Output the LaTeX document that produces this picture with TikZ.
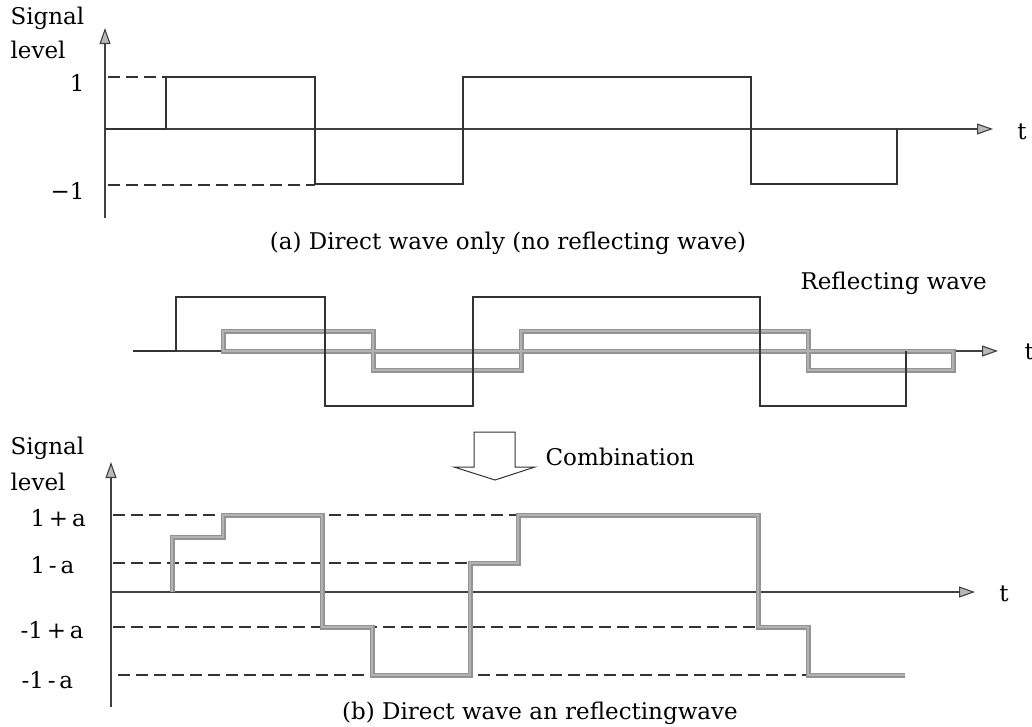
\documentclass[tikz,border=0pt]{standalone}
\usepackage{fontspec}
\setmainfont{DejaVu Serif}
\usetikzlibrary{arrows.meta}
\begin{document}
\begin{tikzpicture}[x=1pt,y=-1pt,line width=1.1pt,font=\fontsize{23}{27}\selectfont,
	axis/.style={draw=black!75, -{Triangle[length=16pt,width=11pt,fill=gray!55]}},
	level/.style={black!80, dash pattern=on 12pt off 6pt},
	direct/.style={black!80},
	refl/.style={draw=gray!85, line width=1.2pt, double=gray!60, double distance=2.6pt, line join=miter},
	lbl/.style={inner sep=0pt}]
\useasboundingbox (0,0) rectangle (1032,726);

% (a) direct wave only
\draw[axis] (105,218) -- (105,28);
\draw[axis] (105,129) -- (993,129);
\node[lbl, anchor=west] (sigA) at (10,18) {Signal};
\node[lbl, anchor=west] (levA) at (10,50) {level};
\node[lbl] (tA) at (1022,132) {t};
\node[lbl, anchor=east] (oneA) at (85,83) {1};
\node[lbl, anchor=east] (moneA) at (85,191) {−1};

\draw[level] (108,77) -- (165,77);
\draw[level] (108,185) -- (315,185);

\draw[direct] (105,129) -- (166,129) -- (166,77) -- (315,77) -- (315,184) -- (463,184)
	-- (463,77) -- (751,77) -- (751,184) -- (897,184) -- (897,129);

\node[lbl] (capA) at (508,243) {(a) Direct wave only (no reflecting wave)};

% direct + reflecting wave
\draw[axis] (133,351) -- (998,351);
\node[lbl, anchor=west] (tM) at (1024,352) {t};
\draw[refl] (223,351) -- (223,331) -- (373,331) -- (373,370) -- (521,370) -- (521,331)
	-- (808,331) -- (808,370) -- (953,370) -- (953,351) -- cycle;
\draw[direct] (133,351) -- (176,351) -- (176,297) -- (325,297) -- (325,406) -- (473,406)
	-- (473,297) -- (760,297) -- (760,406) -- (906,406) -- (906,351);
\node[lbl, anchor=west] (reflLbl) at (800,283) {Reflecting wave};

% combination arrow
\draw[black!80, line width=1pt, fill=white] (474,432) -- (515,432) -- (515,467) -- (535,467)
	-- (495,480) -- (454,467) -- (474,467) -- cycle;
\node[lbl, anchor=west] (comb) at (545,457) {Combination};

% (b) direct wave and reflecting wave
\draw[axis] (111,707) -- (111,462);
\draw[axis] (111,592) -- (975,592);
\node[lbl, anchor=west] (sigB) at (10,448) {Signal};
\node[lbl, anchor=west] (levB) at (10,482) {level};
\node[lbl] (tB) at (1004,594) {t};

\foreach \y/\xe in {515/518, 563/470, 627/758}
	\draw[level] (113,\y) -- (\xe,\y);
\draw[level] (118,675) -- (808,675);

\node[lbl, anchor=west] (lpa) at (30,518) {1\,+\,a};
\node[lbl, anchor=west] (lma) at (30,565) {1\,-\,a};
\node[lbl, anchor=west] (mlpa) at (20,630) {-1\,+\,a};
\node[lbl, anchor=west] (mlma) at (21,680) {-1\,-\,a};

\draw[refl] (172,592) -- (172,537) -- (223,537) -- (223,515) -- (322,515)
	-- (322,627) -- (372,627) -- (372,675) -- (470,675) -- (470,563) -- (518,563)
	-- (518,515) -- (758,515) -- (758,627) -- (808,627) -- (808,675) -- (905,675);

\node[lbl] (capB) at (540,713) {(b) Direct wave an reflectingwave};
\end{tikzpicture}
\end{document}
